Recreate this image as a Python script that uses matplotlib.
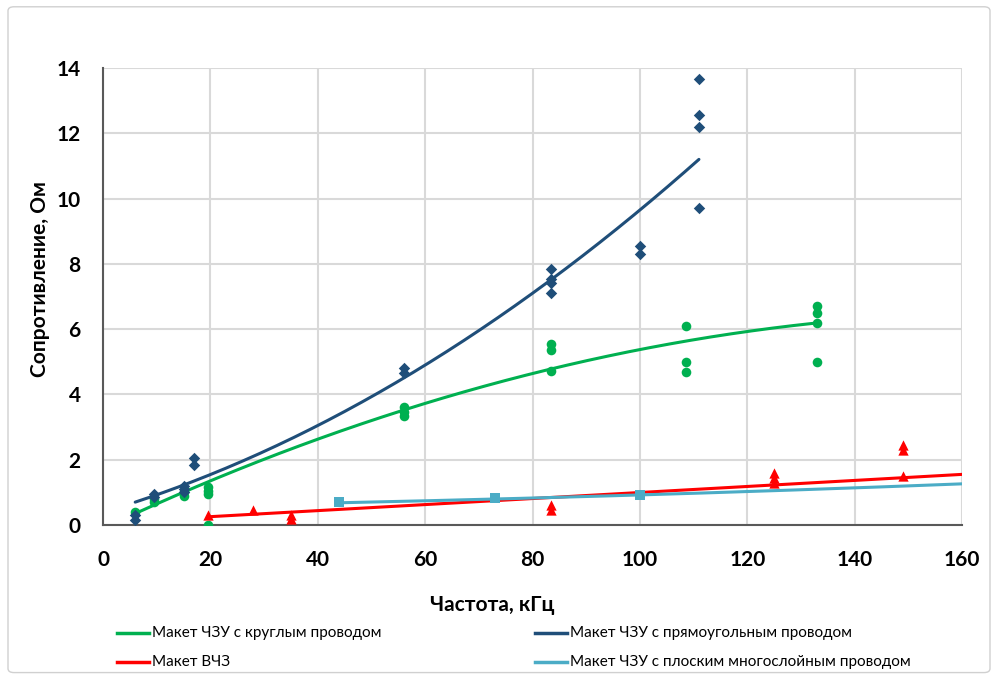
import numpy as np
import matplotlib
matplotlib.use("Agg")
import matplotlib.pyplot as plt
from matplotlib.lines import Line2D
from matplotlib.patches import FancyBboxPatch

plt.rcParams['font.family'] = ['Lato', 'DejaVu Sans']

# --- data: measured points ---
round_x = [6, 9.5, 9.5, 15, 15, 19.5, 19.5, 19.5, 19.5, 56, 56, 56, 83.5, 83.5, 83.5, 108.5, 108.5, 108.5, 133, 133, 133, 133]
round_y = [0.4, 0.7, 0.8, 0.9, 1.0, 0.0, 0.95, 1.05, 1.15, 3.6, 3.45, 3.35, 5.55, 5.35, 4.72, 6.1, 5.0, 4.7, 6.7, 6.5, 6.2, 5.0]

rect_x = [6, 6, 9.5, 9.5, 15, 15, 15, 17, 17, 56, 56, 83.5, 83.5, 83.5, 83.5, 100, 100, 111, 111, 111, 111]
rect_y = [0.15, 0.3, 0.85, 0.95, 1.0, 1.1, 1.2, 1.85, 2.05, 4.65, 4.8, 7.85, 7.55, 7.4, 7.1, 8.55, 8.3, 13.65, 12.55, 12.2, 9.7]

vchz_x = [19.5, 28, 35, 35, 83.5, 83.5, 125, 125, 125, 149, 149, 149]
vchz_y = [0.3, 0.45, 0.3, 0.18, 0.62, 0.45, 1.6, 1.45, 1.3, 2.45, 2.3, 1.5]

flat_x = [44, 73, 100]
flat_y = [0.7, 0.84, 0.92]

# --- trendlines (anchor points of each curve) ---
round_trend_x = [6, 56, 133]
round_trend_y = [0.35, 3.52, 6.19]
rect_trend_x = [6, 56, 111]
rect_trend_y = [0.7, 4.5, 11.2]
vchz_trend_x = [19.5, 160]
vchz_trend_y = [0.25, 1.55]
flat_trend_x = [44, 100, 160]
flat_trend_y = [0.68, 0.92, 1.26]

x_ticks = [0, 20, 40, 60, 80, 100, 120, 140, 160]
y_ticks = [0, 2, 4, 6, 8, 10, 12, 14]

labels = ['Макет ЧЗУ с круглым проводом', 'Макет ЧЗУ с прямоугольным проводом',
          'Макет ВЧЗ', 'Макет ЧЗУ с плоским многослойным проводом']
c_round, c_rect, c_vchz, c_flat = '#00b050', '#1f4e79', '#ff0000', '#4bacc6'

fig = plt.figure(figsize=(10, 6.78), dpi=100)
fig.patches.append(FancyBboxPatch((0.008, 0.008), 0.982, 0.982, boxstyle="round,pad=0,rounding_size=0.006",
                                  transform=fig.transFigure, fill=False, edgecolor='#d0d0d0', lw=1))
ax = fig.add_axes([0.103, 0.2257, 0.859, 0.674])

def trend(tx, ty):
    deg = len(tx) - 1
    c = np.polyfit(tx, ty, deg)
    xs = np.linspace(tx[0], tx[-1], 200)
    return xs, np.polyval(c, xs)

for tx, ty, c in [(round_trend_x, round_trend_y, c_round), (rect_trend_x, rect_trend_y, c_rect),
                  (vchz_trend_x, vchz_trend_y, c_vchz), (flat_trend_x, flat_trend_y, c_flat)]:
    xs, ys = trend(tx, ty)
    ax.plot(xs, ys, color=c, lw=2.2, zorder=3, solid_capstyle='round')

ax.scatter(round_x, round_y, marker='o', s=48, color=c_round, zorder=4, linewidths=0)
ax.scatter(rect_x, rect_y, marker='D', s=34, color=c_rect, zorder=4, linewidths=0)
ax.scatter(vchz_x, vchz_y, marker='^', s=55, color=c_vchz, zorder=4, linewidths=0)
ax.scatter(flat_x, flat_y, marker='s', s=48, color=c_flat, zorder=4, linewidths=0)

ax.set_xlim(0, 160)
ax.set_ylim(0, 14)
ax.set_xticks(x_ticks)
ax.set_yticks(y_ticks)
ax.grid(True, color='#d9d9d9', lw=1.5)
ax.set_axisbelow(True)
for s in ['top', 'right']:
    ax.spines[s].set_visible(False)
for s in ['left', 'bottom']:
    ax.spines[s].set_color('#595959')
    ax.spines[s].set_linewidth(1.5)
ax.tick_params(axis='x', length=0, pad=18, labelsize=15)
ax.tick_params(axis='y', length=0, pad=16, labelsize=15)
for t in ax.get_xticklabels() + ax.get_yticklabels():
    t.set_fontweight('bold')

fig.text(0.492, 1 - 605 / 678, 'Частота, кГц', fontsize=15, fontweight='bold', ha='center', va='center')
fig.text(0.040, 1 - 279 / 678, 'Сопротивление, Ом', fontsize=15, fontweight='bold',
         ha='center', va='center', rotation=90)

# legend (2 columns, filled by rows)
leg_pos = [(117, 633), (535, 633), (117, 662), (535, 662)]
for (x0, y0), lab, c in zip(leg_pos, labels, [c_round, c_rect, c_vchz, c_flat]):
    yf = 1 - y0 / 678
    fig.add_artist(Line2D([x0 / 1000, (x0 + 32) / 1000], [yf, yf], color=c, lw=2.5,
                          transform=fig.transFigure))
    fig.text((x0 + 35) / 1000, yf, lab, fontsize=11, ha='left', va='center')

fig.savefig('out.png', dpi=100)
